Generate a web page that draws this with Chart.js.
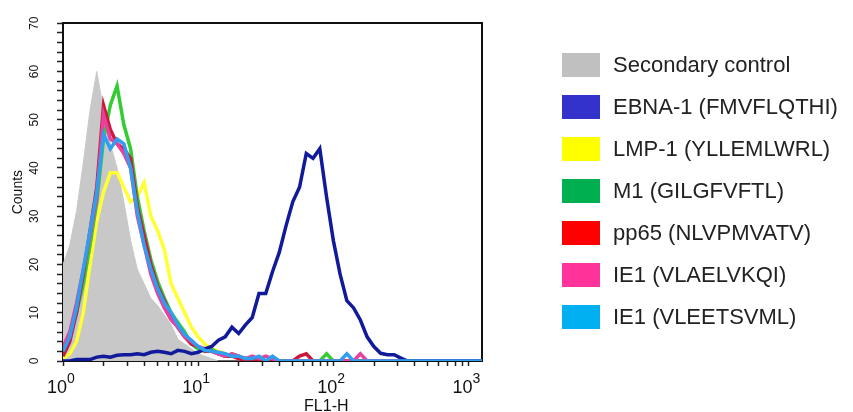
<!DOCTYPE html>
<html>
<head>
<meta charset="utf-8">
<script src="https://cdn.jsdelivr.net/npm/chart.js@4.4.1/dist/chart.umd.min.js"></script>
<style>
  html, body { margin: 0; padding: 0; background: #ffffff; }
  #wrap { position: relative; width: 853px; height: 412px; overflow: hidden; }
  #c { position: absolute; left: 0; top: 0; }
  #legend { position: absolute; left: 562px; top: 53px; font-family: 'Liberation Sans', Arial, sans-serif; font-size: 22px; color: #222; }
  .row { height: 42px; white-space: nowrap; }
  .box { display: inline-block; width: 38px; height: 24px; vertical-align: top; }
  .lbl { display: inline-block; margin-left: 13px; line-height: 24px; height: 24px; vertical-align: top; }
</style>
</head>
<body>
<div id="wrap"><canvas id="c" width="853" height="412"></canvas><div id="legend"></div></div>
<script>
// FL1-H channel positions (bin centres)
const fl1Bins = [
  1, 1.122, 1.259, 1.413, 1.585, 1.778, 1.995, 2.239, 2.512, 2.818,
  3.162, 3.548, 3.981, 4.467, 5.012, 5.623, 6.31, 7.079, 7.943, 8.913,
  10, 11.22, 12.59, 14.13, 15.85, 17.78, 19.95, 22.39, 25.12, 28.18,
  31.62, 35.48, 39.81, 44.67, 50.12, 56.23, 63.1, 70.79, 79.43, 89.13,
  100, 112.2, 125.9, 141.3, 158.5, 177.8, 199.5, 223.9, 251.2, 281.8,
  316.2, 354.8, 398.1, 446.7, 501.2, 562.3, 631, 707.9, 794.3, 891.3,
  1000, 1122, 1259
];

const seriesLabels = [
  'Secondary control',
  'EBNA-1 (FMVFLQTHI)',
  'LMP-1 (YLLEMLWRL)',
  'M1 (GILGFVFTL)',
  'pp65 (NLVPMVATV)',
  'IE1 (VLAELVKQI)',
  'IE1 (VLEETSVML)'
];

const countsSecondary = [
  20, 24, 31, 41, 52, 60, 52, 45, 40, 33,
  25, 19, 16, 13, 11.5, 9.5, 7.5, 4.5, 3.5, 2.5,
  1.5, 1, 0.5, 0, 0, 0, 0, 0, 0, 0,
  0, 0, 0, 0, 0, 0, 0, 0, 0, 0,
  0, 0, 0, 0, 0, 0, 0, 0, 0, 0,
  0, 0, 0, 0, 0, 0, 0, 0, 0, 0,
  0, 0, 0
];
const countsEBNA1 = [
  0, 0, 0.3, 0.3, 0.3, 0.8, 1, 0.8, 1.2, 1.3,
  1.3, 1.5, 1.3, 1.8, 2, 1.8, 1.5, 2.2, 2, 1.5,
  1.8, 2.5, 3, 4.3, 5, 7, 5.7, 7.5, 9, 14,
  14, 18.5, 22.5, 28, 33, 36, 43, 42, 44, 34,
  25, 18, 12.5, 11, 8.5, 5, 3, 1.6, 1.3, 1.3,
  0.6, 0, 0, 0, 0, 0, 0, 0, 0, 0,
  0, 0, 0
];
const countsLMP1 = [
  0.5, 1.5, 4, 10, 20, 29, 35, 39, 39, 36,
  33, 34, 37, 30, 27, 23, 16, 13, 10, 7,
  5, 3.5, 2.5, 2, 1.5, 1, 0.5, 0.5, 0, 0,
  0, 0, 0, 0, 0, 0, 0, 0, 0, 0,
  0, 0, 0, 0, 0, 0, 0, 0, 0, 0,
  0, 0, 0, 0, 0, 0, 0, 0, 0, 0,
  0, 0, 0
];
const countsM1 = [
  2, 5, 10, 16, 24, 33, 46, 53, 57, 49,
  44, 34, 27, 21, 16.5, 13, 10, 8, 6, 3.5,
  2.5, 2, 2.5, 1.5, 1, 1.5, 1, 0.5, 0.5, 0,
  0, 0, 0, 0, 0, 0, 0, 0, 0, 1.5,
  0, 0, 0, 0, 0, 0, 0, 0, 0, 0,
  0, 0, 0, 0, 0, 0, 0, 0, 0, 0,
  0, 0, 0
];
const countsPP65 = [
  1, 4, 10, 18, 27, 36, 53, 48, 45, 44,
  42, 32, 26, 20, 15.5, 12.5, 9.5, 7, 5, 3.5,
  3, 2, 2, 1.5, 1, 1, 0.5, 0, 0, 0,
  0, 0, 0, 0, 0, 1, 1.5, 0, 0, 0,
  0, 0, 0, 0, 0, 0, 0, 0, 0, 0,
  0, 0, 0, 0, 0, 0, 0, 0, 0, 0,
  0, 0, 0
];
const countsIE1a = [
  3, 6, 12, 19, 26, 34, 51, 46, 45, 43,
  40, 30, 24, 18, 14, 11, 8.5, 7, 5, 4,
  3, 2.5, 2, 1.5, 1, 1.5, 1, 0.5, 1, 0.5,
  1, 0.5, 0, 0, 0, 0, 0, 0, 0, 0,
  0, 0, 0, 0, 1.5, 0, 0, 0, 0, 0,
  0, 0, 0, 0, 0, 0, 0, 0, 0, 0,
  0, 0, 0
];
const countsIE1b = [
  2, 5, 11, 19, 27, 35, 47, 44, 46, 45,
  40, 31, 24, 19, 15, 12, 10, 7.5, 5.5, 4.3,
  3, 2.2, 2, 1.8, 1.5, 1, 1, 0.5, 0.5, 1,
  0, 1, 0, 0, 0, 0, 0, 0, 0, 0,
  0, 0, 1.5, 0, 0, 0, 0, 0, 0, 0,
  0, 0, 0, 0, 0, 0, 0, 0, 0, 0,
  0, 0, 0
];

const xTickValues = [1,2,3,4,5,6,7,8,9,10,20,30,40,50,60,70,80,90,100,200,300,400,500,600,700,800,900,1000];
const xDecades = [1, 10, 100, 1000];
const xDecadeExponents = ['0', '1', '2', '3'];

const lineColors   = ['#c8c8c8', '#101a9a', '#ffff33', '#33cc33', '#cc1a3a', '#e8409e', '#2e9ff0'];
const legendColors = ['#c0c0c0', '#3333cc', '#ffff00', '#00b050', '#ff0000', '#ff3399', '#00b0f0'];
const drawOrder    = [7, 2, 6, 5, 4, 3, 1];
const allCounts = [countsSecondary, countsEBNA1, countsLMP1, countsM1, countsPP65, countsIE1a, countsIE1b];

const datasets = allCounts.map((counts, i) => ({
  label: seriesLabels[i],
  data: fl1Bins.map((x, j) => ({x: x, y: counts[j]})),
  borderColor: lineColors[i],
  backgroundColor: lineColors[i],
  borderWidth: i === 0 ? 1 : 3.5,
  fill: i === 0 ? 'origin' : false,
  tension: 0,
  pointRadius: 0,
  order: drawOrder[i]
}));

// HTML legend built from the series names and colours
const legendEl = document.getElementById('legend');
seriesLabels.forEach((name, i) => {
  const row = document.createElement('div');
  row.className = 'row';
  const box = document.createElement('span');
  box.className = 'box';
  box.style.background = legendColors[i];
  const lbl = document.createElement('span');
  lbl.className = 'lbl';
  lbl.textContent = name;
  row.appendChild(box);
  row.appendChild(lbl);
  legendEl.appendChild(row);
});

const FONT = "'Liberation Sans', Arial, 'DejaVu Sans', sans-serif";

const axisText = {
  id: 'axisText',
  afterDraw(chart) {
    const ctx = chart.ctx;
    const xs = chart.scales.x;
    ctx.save();
    ctx.fillStyle = '#111';
    ctx.textBaseline = 'alphabetic';
    xDecades.forEach((v, i) => {
      const px = xs.getPixelForValue(v);
      ctx.font = '18px ' + FONT;
      ctx.textAlign = 'right';
      ctx.fillText('10', px + 4, 393);
      ctx.font = '14px ' + FONT;
      ctx.textAlign = 'left';
      ctx.fillText(xDecadeExponents[i], px + 4, 383);
    });
    ctx.font = '16px ' + FONT;
    ctx.textAlign = 'center';
    ctx.fillText('FL1-H', xs.getPixelForValue(100) - 7, 411);
    ctx.restore();
  }
};

new Chart(document.getElementById('c'), {
  type: 'line',
  data: { datasets: datasets },
  options: {
    responsive: false,
    devicePixelRatio: 1,
    animation: false,
    layout: { padding: { left: 0, top: 17, right: 371, bottom: 0 } },
    plugins: {
      tooltip: { enabled: false },
      legend: { display: false }
    },
    scales: {
      x: {
        type: 'logarithmic',
        position: 'bottom',
        min: 1,
        max: 1259,
        afterBuildTicks: (s) => { s.ticks = xTickValues.map(v => ({value: v})); },
        afterFit: (s) => { s.height = 51; },
        ticks: {
          autoSkip: false,
          maxRotation: 0,
          minRotation: 0,
          padding: 10,
          color: '#111',
          font: { size: 18, family: FONT },
          callback: () => ''
        },
        grid: { display: true, drawOnChartArea: false, drawTicks: true, tickLength: 5, tickColor: '#222', tickWidth: 1.5 },
        border: { display: true, color: '#111', width: 2 },
        title: { display: false }
      },
      x2: {
        type: 'linear',
        position: 'top',
        display: true,
        min: 0, max: 1,
        afterFit: (s) => { s.height = 0; },
        ticks: { display: false },
        grid: { display: false, drawTicks: false },
        border: { display: true, color: '#111', width: 2 }
      },
      y: {
        type: 'linear',
        position: 'left',
        min: 0,
        max: 70,
        afterFit: (s) => { s.width = 63; },
        ticks: {
          stepSize: 2,
          autoSkip: false,
          minRotation: 90,
          maxRotation: 90,
          crossAlign: 'center',
          padding: 16,
          color: '#111',
          font: { size: 12, family: FONT },
          callback: (v) => (v % 10 === 0 ? String(v) : '')
        },
        grid: { display: true, drawOnChartArea: false, drawTicks: true, tickLength: 6, tickColor: '#222', tickWidth: 1.5 },
        border: { display: true, color: '#111', width: 2 },
        title: { display: true, text: 'Counts', color: '#111', font: { size: 14, family: FONT }, padding: { top: 10, bottom: 0 } }
      },
      y2: {
        type: 'linear',
        position: 'right',
        display: true,
        min: 0, max: 70,
        afterFit: (s) => { s.width = 0; },
        ticks: { display: false },
        grid: { display: false, drawTicks: false },
        border: { display: true, color: '#111', width: 2 }
      }
    }
  },
  plugins: [axisText]
});
</script>
</body>
</html>
